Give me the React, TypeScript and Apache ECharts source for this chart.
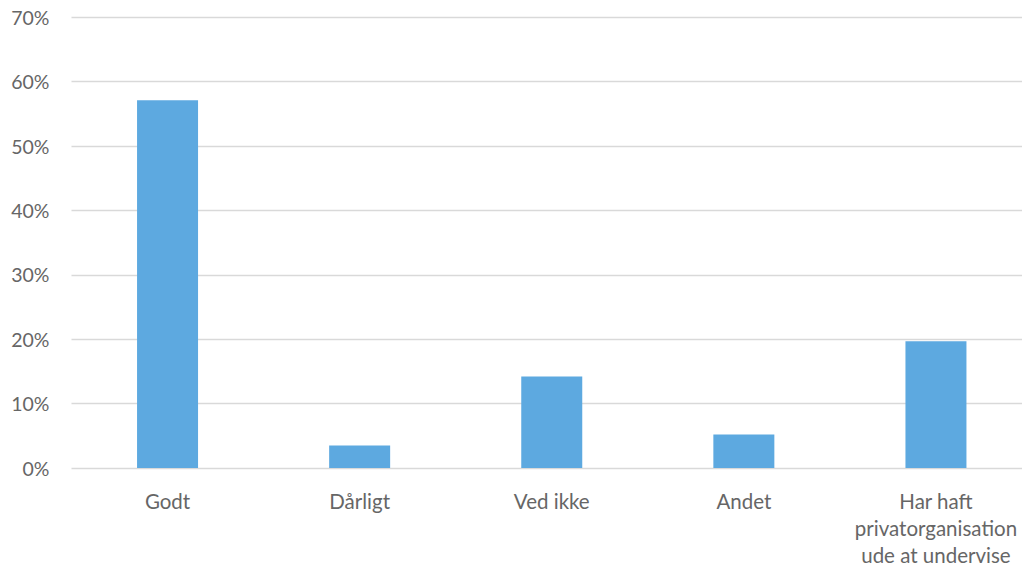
import React, { useEffect, useRef } from "react";
import * as echarts from "echarts";

const categories = ["Godt", "Dårligt", "Ved ikke", "Andet", "Har haft\nprivatorganisation\nude at undervise"];
const values = [57.1, 3.5, 14.2, 5.2, 19.7];
const yTicks = [0, 10, 20, 30, 40, 50, 60, 70];

export default function App() {
  const ref = useRef<HTMLDivElement>(null);
  useEffect(() => {
    document.body.style.margin = "0";
    document.body.style.overflow = "hidden";
    const chart = echarts.init(ref.current!, null, { renderer: "svg" });
    chart.setOption({
      animation: false,
      backgroundColor: "#ffffff",
      grid: { left: 71.5, right: 8, top: 17.3, bottom: 96.5, containLabel: false },
      xAxis: {
        type: "category",
        data: categories,
        axisLine: { show: false },
        axisTick: { show: false },
        axisLabel: {
          color: "#666666",
          fontFamily: "Lato",
          fontSize: 20.5,
          lineHeight: 27,
          margin: 19,
          interval: 0,
        },
      },
      yAxis: {
        type: "value",
        min: yTicks[0],
        max: yTicks[yTicks.length - 1],
        interval: 10,
        axisLine: { show: false },
        axisTick: { show: false },
        splitLine: { lineStyle: { color: "#D9D9D9", width: 1.3 } },
        axisLabel: {
          color: "#666666",
          fontFamily: "Lato",
          fontSize: 19.5,
          margin: 22,
          padding: [6, 0, 0, 0],
          formatter: (v: number) => v + "%",
        },
      },
      series: [
        {
          type: "bar",
          data: values,
          barWidth: 61,
          itemStyle: { color: "#5DA9E0" },
        },
      ],
    });
    return () => chart.dispose();
  }, []);
  return (
    <div style={{ position: "absolute", left: 0, top: 0, width: 1022, height: 568, overflow: "hidden" }}>
      <div ref={ref} style={{ width: 1040, height: 568 }} />
    </div>
  );
}
